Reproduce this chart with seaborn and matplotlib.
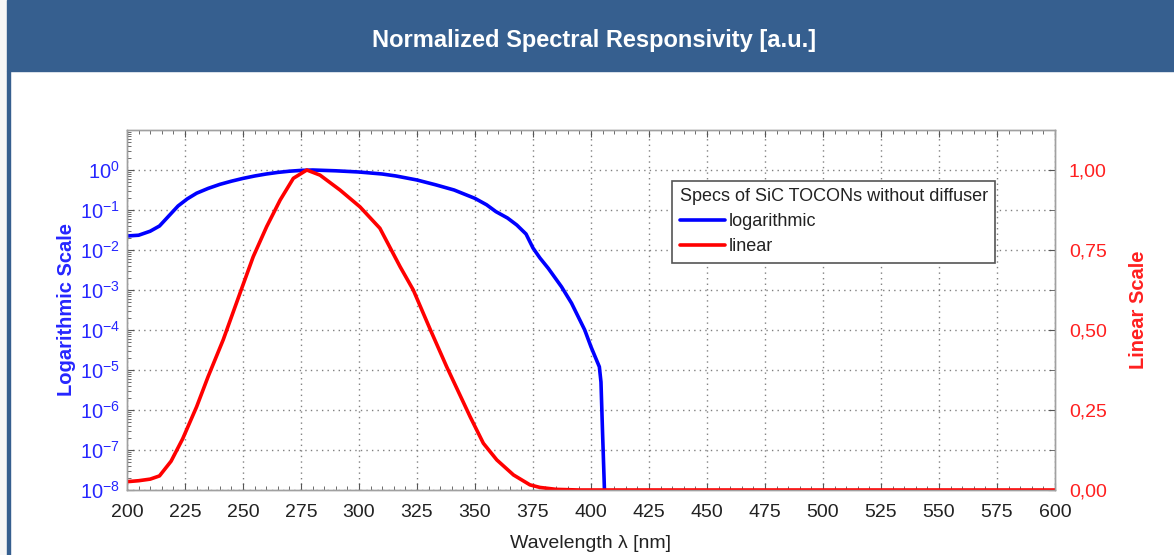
import matplotlib
matplotlib.use("Agg")
import numpy as np
import pandas as pd
import seaborn as sns
import matplotlib.pyplot as plt
from matplotlib.patches import Rectangle
from matplotlib.lines import Line2D
from matplotlib.ticker import FixedLocator, MultipleLocator, LogLocator, FuncFormatter, NullFormatter

# ---------------- data ----------------
log_nm = [200, 205, 210, 214, 218, 222, 226, 230, 235, 240, 245, 250, 255, 260, 265,
          270, 275, 280, 290, 300, 310, 316, 325, 333, 341, 350, 355, 359, 364, 368,
          372, 375, 378, 381.6, 387.3, 391.6, 397.3, 400, 403.6, 404.3, 405, 405.8]
log_val = [0.0224, 0.0234, 0.0295, 0.0398, 0.0708, 0.126, 0.19, 0.263, 0.347, 0.437,
           0.525, 0.617, 0.708, 0.794, 0.871, 0.933, 0.977, 1.0, 0.955, 0.891, 0.794,
           0.708, 0.562, 0.427, 0.316, 0.195, 0.135, 0.0912, 0.0631, 0.0422, 0.0251,
           0.0112, 0.0063, 0.00347, 0.0012, 4.7e-4, 1.0e-4, 3.8e-5, 1.2e-5, 5.0e-6,
           2.5e-7, 1.0e-8]

lin_nm = [200, 205, 210, 214, 219, 224, 230, 235, 241.5, 248.7, 254.4, 260.2, 266,
          271.7, 277.5, 283.2, 291.8, 300.4, 309, 317.7, 323.4, 330.8, 337.8, 347.9,
          353.6, 359.4, 366.6, 373.7, 378, 385, 395, 600]
lin_val = [0.026, 0.029, 0.034, 0.044, 0.09, 0.16, 0.26, 0.355, 0.47, 0.615, 0.729,
           0.823, 0.906, 0.974, 1.0, 0.984, 0.9375, 0.885, 0.818, 0.698, 0.625, 0.50,
           0.385, 0.229, 0.146, 0.094, 0.047, 0.016, 0.008, 0.002, 0.0, 0.0]

x_ticks = list(range(200, 601, 25))
log_ticks = [1e-8, 1e-7, 1e-6, 1e-5, 1e-4, 1e-3, 1e-2, 1e-1, 1e0]
lin_ticks = [0.0, 0.25, 0.5, 0.75, 1.0]

title = "Normalized Spectral Responsivity [a.u.]"
legend_title = "Specs of SiC TOCONs without diffuser"
series_names = ["logarithmic", "linear"]

# ---------------- style ----------------
sns.set_style("ticks")
plt.rcParams['font.family'] = ['Liberation Sans', 'DejaVu Sans']
plt.rcParams['mathtext.fontset'] = 'custom'
plt.rcParams['mathtext.rm'] = 'Liberation Sans'
plt.rcParams['mathtext.it'] = 'Liberation Sans'

HEADER = "#365f8f"
BLUE = "#0000ff"
RED = "#ff0000"
BLUE_TXT = "#2626ff"
RED_TXT = "#ff2020"

W, H = 1174, 555
fig = plt.figure(figsize=(W / 100, H / 100), dpi=100)
fig.patch.set_facecolor("white")

# frame / header
fig.patches.append(Rectangle((0, 0), 7 / W, 1, transform=fig.transFigure,
                             color="#f7f7f7", zorder=0))
fig.patches.append(Rectangle((7 / W, 1 - 71 / H), 1 - 7 / W, 71 / H,
                             transform=fig.transFigure, color=HEADER, zorder=0))
fig.patches.append(Rectangle((7 / W, 0), 3 / W, 1 - 71 / H,
                             transform=fig.transFigure, color=HEADER, zorder=0))
fig.text(594 / W, 1 - 40 / H, title, ha='center', va='center', color='white',
         fontsize=17, fontweight='bold')

# axes
left, right, top, bottom = 127, 1055, 130, 490
ax = fig.add_axes([left / W, 1 - bottom / H, (right - left) / W, (bottom - top) / H])
ax.set_facecolor("white")

df_log = pd.DataFrame({"nm": log_nm, "val": log_val})
df_lin = pd.DataFrame({"nm": lin_nm, "val": lin_val})

sns.lineplot(data=df_log, x="nm", y="val", ax=ax, color=BLUE, linewidth=2.6,
             sort=False, estimator=None, legend=False)
ax.set_yscale("log")
ax.set_xlim(200, 600)
ax.set_ylim(1e-8, 1e1)

ax2 = ax.twinx()
sns.lineplot(data=df_lin, x="nm", y="val", ax=ax2, color=RED, linewidth=2.6,
             sort=False, estimator=None, legend=False)
ax2.set_ylim(0, 1.125)
ax2.set_xlim(200, 600)

# ticks
ax.xaxis.set_major_locator(FixedLocator(x_ticks))
ax.xaxis.set_minor_locator(MultipleLocator(5))
ax.yaxis.set_major_locator(FixedLocator(log_ticks))
ax.yaxis.set_minor_locator(LogLocator(base=10, subs=np.arange(2, 10), numticks=20))
ax.yaxis.set_minor_formatter(NullFormatter())
ax.yaxis.set_major_formatter(FuncFormatter(lambda v, p: r"$10^{%d}$" % int(round(np.log10(v)))))
ax.tick_params(axis='both', which='both', direction='in', top=True, right=False,
               color="#555555")
ax.tick_params(axis='both', which='major', length=5, width=0.8)
ax.tick_params(axis='both', which='minor', length=3, width=0.6)
ax.tick_params(axis='x', labelsize=14, labelcolor="#222222", pad=10)
ax.tick_params(axis='y', labelsize=14.5, labelcolor=BLUE_TXT, pad=5)

ax2.yaxis.set_major_locator(FixedLocator(lin_ticks))
ax2.yaxis.set_minor_locator(MultipleLocator(0.125))
ax2.yaxis.set_major_formatter(FuncFormatter(lambda v, p: f"{v:.2f}".replace('.', ',')))
ax2.tick_params(axis='y', which='both', direction='in', color="#555555",
                labelsize=14, labelcolor=RED_TXT, pad=10)
ax2.tick_params(axis='y', which='major', length=5)
ax2.tick_params(axis='y', which='minor', length=4)

# grid
ax.grid(True, which='major', axis='both', color="#808080", linestyle=(0, (1, 3)),
        linewidth=1.0)
ax2.grid(False)

for a in (ax, ax2):
    for s in a.spines.values():
        s.set_color("#a0a0a0")
        s.set_linewidth(1.0)
        s.set_visible(True)

# labels
ax.set_xlabel("Wavelength λ [nm]", fontsize=14, color="#222222", labelpad=10)
ax.set_ylabel("Logarithmic Scale", fontsize=14.5, color=BLUE_TXT, fontweight='bold',
              labelpad=3)
ax2.set_ylabel("Linear Scale", fontsize=14.5, color=RED_TXT, fontweight='bold',
               labelpad=16)

# legend
handles = [Line2D([0], [0], color=BLUE, lw=2.6), Line2D([0], [0], color=RED, lw=2.6)]
leg = ax2.legend(handles, series_names, title=legend_title, loc='upper right',
                 bbox_to_anchor=((995 - left) / (right - left), 1 - (181 - top) / (bottom - top)),
                 borderaxespad=0, fontsize=13, title_fontsize=13, frameon=True,
                 fancybox=False, edgecolor="#555555", framealpha=1,
                 handlelength=2.5, handletextpad=0.2, labelspacing=0.45,
                 borderpad=0.4, alignment='left')
leg.get_frame().set_linewidth(1.2)
for t in leg.get_texts():
    t.set_color("#222222")
leg.get_title().set_color("#222222")

fig.savefig("out.png", dpi=100, facecolor=fig.get_facecolor())
